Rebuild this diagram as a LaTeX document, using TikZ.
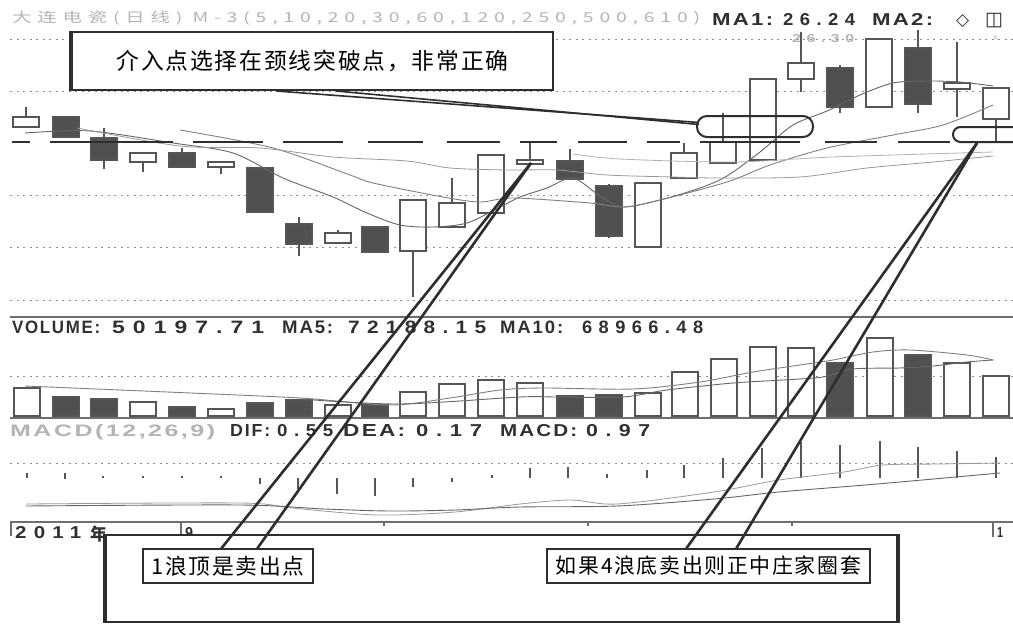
\documentclass[tikz,border=0pt]{standalone}
\usepackage{fontspec}
\usepackage{graphicx}
\setmainfont{Liberation Sans}
\newfontfamily\cjk{Noto Sans CJK SC}
\newfontfamily\cjkls[LetterSpace=30]{Noto Sans CJK SC}
\newfontfamily\cjklab[LetterSpace=8]{Noto Sans CJK SC}
\newfontfamily\chw[LetterSpace=10]{Liberation Sans}
\newfontfamily\chn[LetterSpace=35]{Liberation Sans}
\newfontfamily\symf{DejaVu Sans}
\definecolor{dk}{HTML}{2E2E2E}
\definecolor{cf}{HTML}{505050}
\definecolor{ol}{HTML}{555555}
\definecolor{gr}{HTML}{8C8C8C}
\definecolor{sp}{HTML}{6E6E6E}
\definecolor{lt}{HTML}{B4B4B4}
\definecolor{txt}{HTML}{303030}
\newcommand\fitbox[3]{\resizebox{#1pt}{#2pt}{#3}}
\newcommand\txw[1]{\chw\bfseries\fontsize{16}{16}\selectfont #1}
\newcommand\txn[1]{\chn\bfseries\fontsize{16}{16}\selectfont #1}
\begin{document}
\begin{tikzpicture}[x=1pt,y=-1pt,
  cand0/.style={draw=ol,line width=1.4pt,fill=white},
  cand1/.style={draw=ol,line width=1.4pt,fill=cf},
  wick/.style={draw=ol,line width=1.4pt},
  stick/.style={draw=ol,line width=1.4pt},
  gridl/.style={draw=gr,line width=0.9pt,dash pattern=on 2pt off 4.5pt},
  sepl/.style={draw=sp,line width=1.3pt},
  neck/.style={draw=dk,line width=2.2pt},
  maA/.style={draw=black!60,line width=0.9pt},
  maB/.style={draw=black!50,line width=0.9pt},
  maC/.style={draw=black!40,line width=0.8pt},
  maD/.style={draw=black!30,line width=0.8pt},
  ring/.style={draw=dk,line width=2pt,inner sep=0pt},
  lab/.style={draw=dk,line width=1.3pt,fill=white,inner sep=0pt},
  conn/.style={draw=dk,line width=2.6pt},
  connt/.style={draw=dk,line width=1.6pt},
  lbl/.style={anchor=base west,inner sep=0pt,text=txt},
]
\useasboundingbox (0,0) rectangle (1013,624);
\clip (0,0) rectangle (1013,624);
\fill[white] (0,0) rectangle (1013,624);

% header texts
\node[lbl,text=lt] (title) at (12,22) {\fitbox{688}{11.5}{\cjkls\fontsize{14}{14}\selectfont 大连电瓷(日线) M-3(5,10,20,30,60,120,250,500,610)}};
\node[lbl] (ma1) at (712,25) {\fitbox{61}{12}{\txw{MA1:}}};
\node[lbl] (ma1v) at (783,25) {\fitbox{72}{12}{\txn{26.24}}};
\node[lbl] (ma2) at (872,25) {\fitbox{61}{12}{\txw{MA2:}}};
\node[lbl] (sym1) at (956,25) {\symf\fontsize{17}{17}\selectfont ◇};
\node[lbl] (sym2) at (985,25) {\symf\bfseries\fontsize{19}{19}\selectfont ◫};
\node[lbl,text=lt] (cross) at (992,40) {\symf\fontsize{8}{8}\selectfont ×};
\node[lbl,text=lt] (pl) at (792,42) {\fitbox{62}{8}{\txn{26.30}}};

% dotted grid lines
\foreach \yy in {39,91,195,247,300,376,463} \draw[gridl] (10,\yy) -- (1013,\yy);
% separators
\foreach \yy in {317,418,522} \draw[sepl] (10,\yy) -- (1013,\yy);

% candles
\foreach \x/\bt/\bb/\wt/\wb/\f in {
26/117/127/107/127/0, 66/117/137/117/137/1, 104/138/160/128/169/1,
143/153/162/153/172/0, 182/153/167/148/167/1, 221/162/167/162/174/0,
260/168/212/168/213/1, 299/224/244/217/256/1, 338/233/243/230/243/0,
375/227/252/227/253/1, 413/200/251/200/297/0, 452/203/227/178/227/0,
491/155/213/155/213/0, 530/160/164/143/164/0, 570/161/179/149/179/1,
609/186/236/184/238/1, 648/183/247/183/247/0, 684/153/178/143/178/0,
723/142/163/113/163/0, 763/79/160/79/160/0, 801/63/79/32/92/0,
840/68/107/65/113/1, 879/39/107/39/107/0, 918/48/104/30/113/1,
957/83/89/42/117/0, 996/88/119/88/142/0}{
  \draw[wick] (\x,\wt) -- (\x,\wb);
  \draw[cand\f] (\x-13,\bt) rectangle (\x+13,\bb);
}

% price moving averages
\draw[maA] plot[smooth] coordinates {(25,133) (90,131) (173,143) (233,153) (283,178) (333,197) (367,213) (400,225) (433,227) (467,223) (500,207) (520,197) (547,188) (573,178) (600,196) (623,207) (660,200) (700,188) (727,176) (760,152) (793,125) (827,111) (860,95) (893,83) (927,81) (960,82) (993,86)};
\draw[maB] plot[smooth] coordinates {(180,130) (273,148) (350,175) (373,183) (443,197) (480,202) (513,198) (590,203) (623,207) (660,200) (727,182) (770,165) (827,148) (893,135) (943,125) (993,105)};
\draw[maC] plot[smooth] coordinates {(77,128) (180,146) (260,148) (333,157) (407,161) (450,168) (507,170) (557,170) (607,175) (673,177) (720,178) (800,177) (867,168) (933,162) (993,156)};
\draw[maD] plot[smooth] coordinates {(573,154) (620,159) (733,162) (833,157) (993,152)};

% neckline
\foreach \a/\b in {12/30,50/173,193/263,283/343,368/423,447/500,520/557,578/627,647/680,700/800,825/877,898/950,973/1013}
  \draw[neck] (\a,142) -- (\b,142);

% volume panel
\node[lbl] (vol) at (12,333) {\fitbox{88}{12.5}{\txw{VOLUME:}}};
\node[lbl] (volv) at (112,333) {\fitbox{152}{12.5}{\txn{50197.71}}};
\node[lbl] (vma5) at (282,333) {\fitbox{51}{12.5}{\txw{MA5:}}};
\node[lbl] (vma5v) at (348,333) {\fitbox{138}{12.5}{\txn{72188.15}}};
\node[lbl] (vma10) at (500,333) {\fitbox{63}{12.5}{\txw{MA10:}}};
\node[lbl] (vma10v) at (582,333) {\fitbox{121}{12.5}{\txn{68966.48}}};
\foreach \x/\t/\f in {27/388/0, 66/397/1, 104/399/1, 143/402/0, 182/407/1, 221/409/0, 260/403/1, 299/400/1, 338/405/0, 375/405/1, 413/392/0, 452/384/0, 491/380/0, 530/383/0, 570/396/1, 609/395/1, 648/393/0, 685/372/0, 724/359/0, 763/347/0, 801/348/0, 840/363/1, 880/338/0, 918/355/1, 957/363/0, 996/376/0}
  \draw[cand\f] (\x-13,\t) rectangle (\x+13,416);
\draw[maB] plot[smooth] coordinates {(25,386) (167,392) (300,398) (390,405) (450,398) (500,390) (543,388) (633,389) (700,382) (753,372) (800,365) (833,360) (873,352) (910,350) (967,355) (993,360)};
\draw[maA] plot[smooth] coordinates {(300,399) (400,404) (520,397) (557,397) (623,397) (667,390) (733,383) (783,380) (823,377) (853,369) (900,368) (933,366) (967,362) (993,360)};

% MACD panel
\node[lbl,text=lt] (macdt) at (10,436) {\fitbox{205}{12}{\txw{MACD(12,26,9)}}};
\node[lbl] (dif) at (230,436) {\fitbox{40}{12}{\txw{DIF:}}};
\node[lbl] (difv) at (277,436) {\fitbox{56}{12}{\txn{0.55}}};
\node[lbl] (dea) at (343,436) {\fitbox{62}{12}{\txw{DEA:}}};
\node[lbl] (deav) at (416,436) {\fitbox{66}{12}{\txn{0.17}}};
\node[lbl] (macd) at (500,436) {\fitbox{77}{12}{\txw{MACD:}}};
\node[lbl] (macdv) at (586,436) {\fitbox{64}{12}{\txn{0.97}}};
\foreach \x/\ya/\yb in {27/473/478, 65/473/479, 103/476/478, 143/476/478, 182/476/478, 221/476/478, 260/478/484, 298/478/489, 337/478/494, 375/478/496, 413/478/487, 452/478/482, 492/475/478, 530/468/478, 568/467/478, 607/474/478, 647/470/478, 684/465/478, 723/458/478, 762/448/478, 801/442/478, 840/445/478, 880/441/478, 918/447/478, 957/451/478, 996/457/478}
  \draw[stick] (\x,\ya) -- (\x,\yb);
\draw[maC] plot[smooth] coordinates {(26,504) (240,503) (292,508) (377,515) (455,512) (520,504) (571,500) (617,504) (714,492) (779,480) (844,472) (883,465) (940,464) (1000,463)};
\draw[maA] plot[smooth] coordinates {(26,506) (240,505) (325,509) (390,511) (455,510) (520,507) (617,506) (714,499) (779,492) (877,484) (1000,473)};

% time axis
\draw[sepl] (11,522) -- (11,536);
\draw[sepl] (181,522) -- (181,535);
\draw[sepl] (993,522) -- (993,537);
\foreach \x in {384,588,792} \draw[sepl] (\x,522) -- (\x,526);
\node[lbl] (yr) at (15,538) {\fitbox{66}{12}{\txn{2011}}};
\node[lbl] (yrc) at (90,540) {\cjk\bfseries\fontsize{17}{17}\selectfont 年};
\node[lbl] (m9) at (185,538) {\fitbox{8}{11}{\txw{9}}};
\node[lbl] (m1) at (997,537) {\fitbox{6}{10}{\txw{1}}};

% highlight rings
\node[ring,minimum width=116pt,minimum height=21pt,rounded corners=10pt] (ellA) at (755,126.5) {};
\node[ring,minimum width=90pt,minimum height=15pt,rounded corners=7.5pt] (ellB) at (998,134.5) {};
\coordinate (w1) at (531,163);

% callout boxes
\node[draw=dk,line width=2pt,fill=white,minimum width=791pt,minimum height=87pt,inner sep=0pt] (bigbox) at (501.5,578.5) {};
\draw[dk,line width=4pt] (bigbox.north west) -- (bigbox.south west);
\draw[dk,line width=4pt] (bigbox.north east) -- (bigbox.south east);
\node[draw=dk,line width=2pt,fill=white,minimum width=481pt,minimum height=58pt,inner sep=0pt] (topbox) at (312.5,61)
  {\resizebox{392pt}{!}{\cjklab\fontsize{20}{20}\selectfont 介入点选择在颈线突破点，非常正确}};
\draw[dk,line width=4.5pt] (topbox.north west) -- (topbox.south west);
\node[lab,minimum width=170pt,minimum height=34pt] (lab1) at (228,566)
  {\resizebox{153pt}{!}{\cjklab\fontsize{19}{19}\selectfont 1浪顶是卖出点}};
\node[lab,minimum width=323pt,minimum height=34pt] (lab2) at (708.5,566)
  {\resizebox{305pt}{!}{\cjklab\fontsize{19}{19}\selectfont 如果4浪底卖出则正中庄家圈套}};

% connectors
\draw[connt] ([xshift=205pt]topbox.south west) -- ([xshift=3pt,yshift=4pt]ellA.west);
\draw[connt] ([xshift=265pt]topbox.south west) -- ([xshift=3pt,yshift=2pt]ellA.west);
\draw[conn] ([xshift=79pt]lab1.north west) -- (w1);
\draw[conn] ([xshift=115pt]lab1.north west) -- (w1);
\draw[conn] ([xshift=140pt]lab2.north west) -- ([xshift=-21pt]ellB.south);
\draw[conn] ([xshift=190pt]lab2.north west) -- ([xshift=-21pt]ellB.south);
\end{tikzpicture}
\end{document}
